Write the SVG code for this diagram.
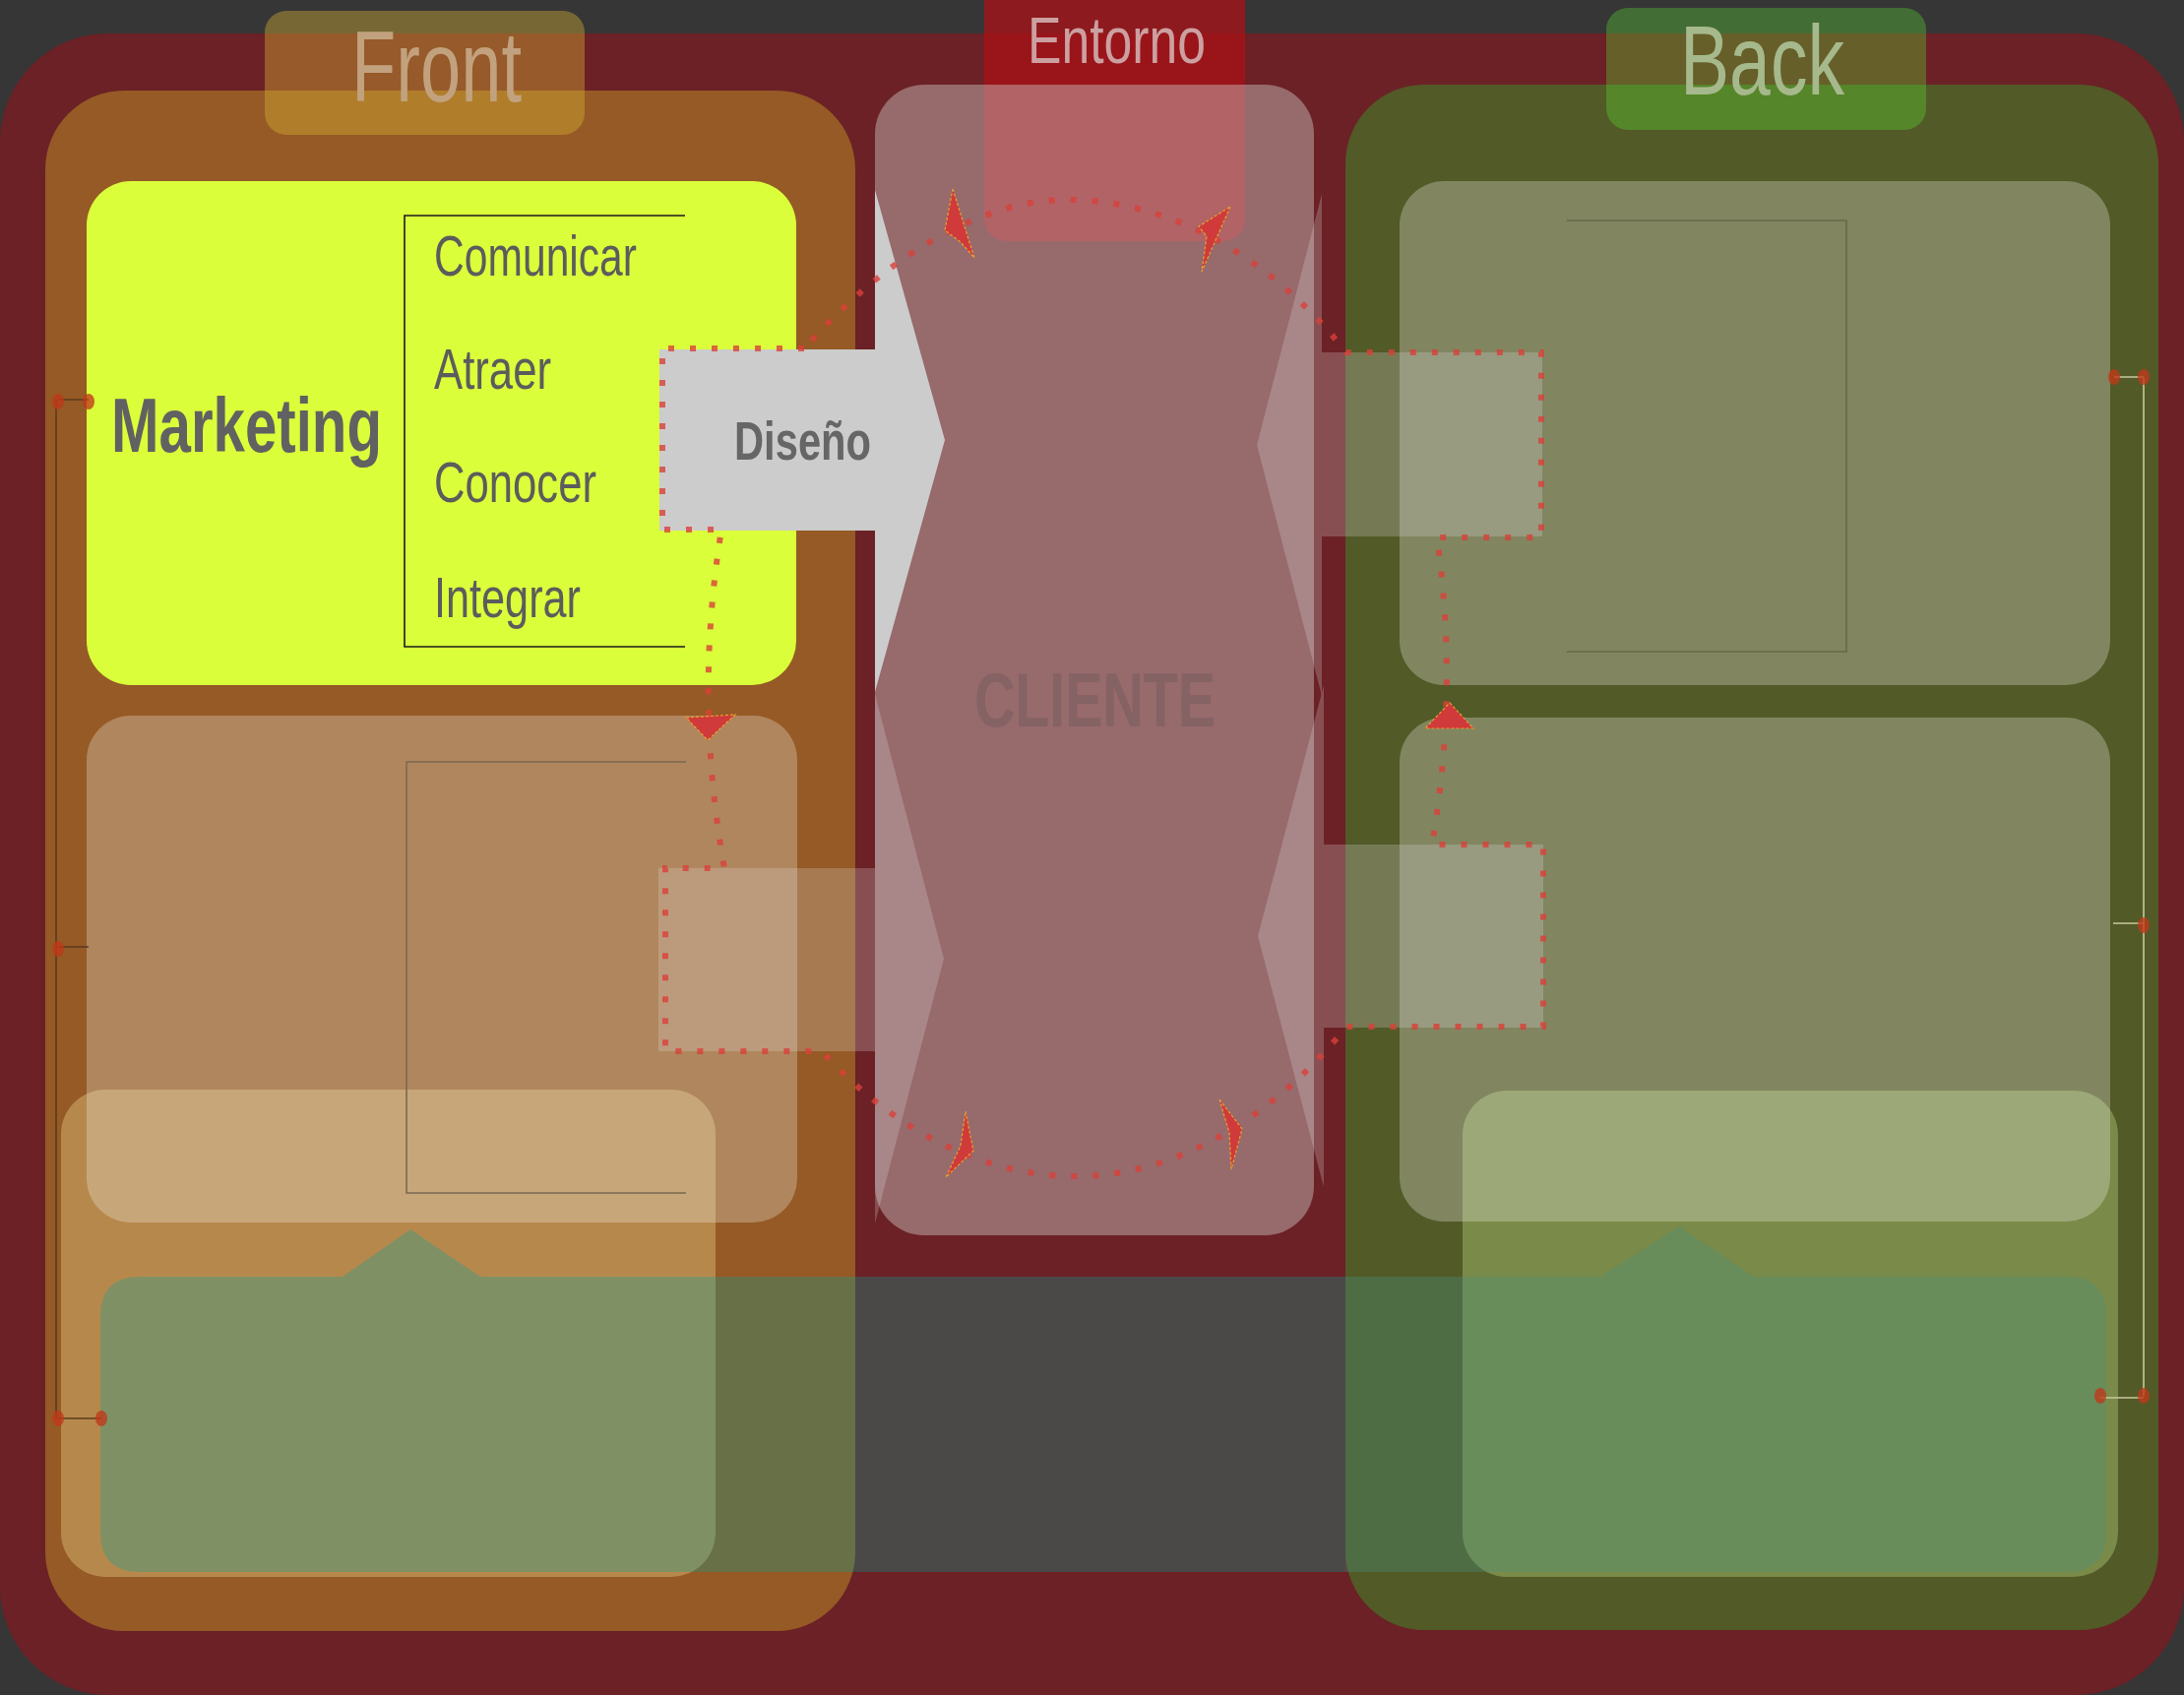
<svg xmlns="http://www.w3.org/2000/svg" width="2219" height="1722" viewBox="0 0 2219 1722">
<defs>
<style>
.lbl{font-family:"Liberation Sans",Arial,sans-serif}
.b{font-weight:bold}
.glass{fill:#EEF0E4;fill-opacity:0.3}
.brk{fill:none;stroke-width:1.6}
.dots{fill:none;stroke:#D9403A;stroke-opacity:0.8;stroke-width:6;stroke-dasharray:6 16}
.ah{fill:#D03A3A;stroke:#E8A030;stroke-width:1.2;stroke-dasharray:3 2}
.dot{fill:#C0381A;fill-opacity:0.78}
.tarrow{fill:#E0DCDC;fill-opacity:0.25}
</style>
</defs>
<rect width="2219" height="1722" fill="#363636"/>
<rect id="outer" x="0" y="34" width="2219" height="1688" rx="110" fill="#6B2125"/>

<g id="entorno">
<rect x="1000" y="-30" width="265" height="275" rx="22" fill="#A81217" fill-opacity="0.77"/>
<text class="lbl" x="1044" y="64" font-size="67" fill="#CCA0A0" textLength="181" lengthAdjust="spacingAndGlyphs">Entorno</text>
</g>

<g id="front">
<rect x="46" y="92" width="823" height="1565" rx="80" fill="#955A25"/>
<rect x="269" y="11" width="325" height="126" rx="22" fill="#D9B232" fill-opacity="0.4"/>
<text class="lbl" x="357" y="103" font-size="102" fill="#C2A27E" textLength="173" lengthAdjust="spacingAndGlyphs">Front</text>
</g>

<g id="back">
<rect x="1367" y="86" width="826" height="1570" rx="80" fill="#525A27"/>
<rect x="1632" y="8" width="325" height="124" rx="22" fill="#5EE433" fill-opacity="0.32"/>
<text class="lbl" x="1707" y="96" font-size="100" fill="#A6B98C" textLength="167" lengthAdjust="spacingAndGlyphs">Back</text>
</g>

<g id="cliente">
<rect x="889" y="86" width="446" height="1169" rx="50" fill="#CFC4C3" fill-opacity="0.45"/>
<text class="lbl b" x="990" y="738" font-size="78" fill="#856264" textLength="245" lengthAdjust="spacingAndGlyphs">CLIENTE</text>
</g>

<g id="marketing">
<rect x="88" y="184" width="721" height="512" rx="45" fill="#DBFE3B"/>
<path class="brk" stroke="#1A1A1A" d="M696 219H411V657H696"/>
<text class="lbl b" x="113" y="459" font-size="77" fill="#616161" textLength="275" lengthAdjust="spacingAndGlyphs">Marketing</text>
<g class="lbl" font-size="57" fill="#5C5C5C">
<text x="441" y="280" textLength="206" lengthAdjust="spacingAndGlyphs">Comunicar</text>
<text x="441" y="395" textLength="119" lengthAdjust="spacingAndGlyphs">Atraer</text>
<text x="441" y="510" textLength="165" lengthAdjust="spacingAndGlyphs">Conocer</text>
<text x="441" y="627" textLength="149" lengthAdjust="spacingAndGlyphs">Integrar</text>
</g>
</g>

<g id="front-bottom">
<rect x="62" y="1107" width="665" height="495" rx="45" fill="#E8C882" fill-opacity="0.42"/>
</g>
<g id="back-bottom">
<rect x="1486" y="1108" width="666" height="494" rx="45" fill="#B6D27E" fill-opacity="0.4"/>
</g>

<g id="front-middle">
<rect class="glass" x="88" y="727" width="722" height="515" rx="45"/>
<path class="brk" stroke="#7A6A50" d="M697 774H413V1212H697"/>
</g>
<g id="back-top">
<rect class="glass" x="1422" y="184" width="722" height="512" rx="45"/>
<path class="brk" stroke="#646A4A" d="M1592 224H1876V662H1592"/>
</g>
<g id="back-middle">
<rect class="glass" x="1422" y="729" width="722" height="512" rx="45"/>
</g>

<g id="band">
<path d="M142 1297H348L417 1249L488 1297H1367V1597H142Q102 1597 102 1557V1337Q102 1297 142 1297Z" fill="#00A69D" fill-opacity="0.3"/>
<path d="M1367 1297H1626L1706 1246L1782 1297H2100Q2140 1297 2140 1337V1557Q2140 1597 2100 1597H1367Z" fill="#47937D" fill-opacity="0.35"/>
</g>

<g id="diseno">
<polygon points="670,355 889,355 889,193 960,447 889,703 889,539 670,539" fill="#CCCCCC"/>
<text class="lbl b" x="746" y="467" font-size="56" fill="#666666" textLength="139" lengthAdjust="spacingAndGlyphs">Diseño</text>
</g>
<g id="arrow-left-lower">
<polygon class="tarrow" points="669,882 889,882 889,705 959,974 889,1243 889,1068 669,1068"/>
</g>
<g id="arrow-right-upper">
<polygon class="tarrow" points="1567,358 1343,358 1343,197 1277,452 1343,707 1343,545 1567,545"/>
</g>
<g id="arrow-right-lower">
<polygon class="tarrow" points="1568,858 1345,858 1345,696 1278,951 1345,1206 1345,1044 1568,1044"/>
</g>

<g id="connectors">
<path class="dots" d="M817 354H673V538H733Q705 710 736 882H676V1068H835C910 1150 1000 1195 1094 1195C1190 1195 1290 1140 1368 1043H1568V858H1455Q1482 700 1460 546H1566V358H1368C1290 260 1190 205 1091 203C1000 200 900 260 817 354Z"/>
<polygon class="ah" points="968,192 990,262 976,246 960,234"/>
<polygon class="ah" points="1250,210 1221,276 1226,240 1218,230"/>
<polygon class="ah" points="981,1129 989,1169 961,1196 976,1164"/>
<polygon class="ah" points="1239,1117 1262,1147 1251,1188 1249,1151"/>
<polygon class="ah" points="697,729 747,726 719,752"/>
<polygon class="ah" points="1473,714 1497,740 1448,740"/>

<g id="left-links">
<path d="M57 406V1441M59 406H90M59 962H90M59 1441H103" fill="none" stroke="#5B3A1C" stroke-width="1.6"/>
<ellipse class="dot" cx="59" cy="408" rx="6" ry="8"/>
<ellipse class="dot" cx="90" cy="408" rx="6" ry="8"/>
<ellipse class="dot" cx="59" cy="964" rx="6" ry="8"/>
<ellipse class="dot" cx="59" cy="1441" rx="6" ry="8"/>
<ellipse class="dot" cx="103" cy="1441" rx="6" ry="8"/>
</g>
<g id="right-links">
<path d="M2178 383V1418M2148 383H2178M2147 938H2178M2134 1420H2178" fill="none" stroke="#C8C8A0" stroke-width="1.6"/>
<ellipse class="dot" cx="2148" cy="383" rx="6" ry="8"/>
<ellipse class="dot" cx="2178" cy="383" rx="6" ry="8"/>
<ellipse class="dot" cx="2178" cy="940" rx="6" ry="8"/>
<ellipse class="dot" cx="2134" cy="1418" rx="6" ry="8"/>
<ellipse class="dot" cx="2178" cy="1418" rx="6" ry="8"/>
</g>
</g>
</svg>
